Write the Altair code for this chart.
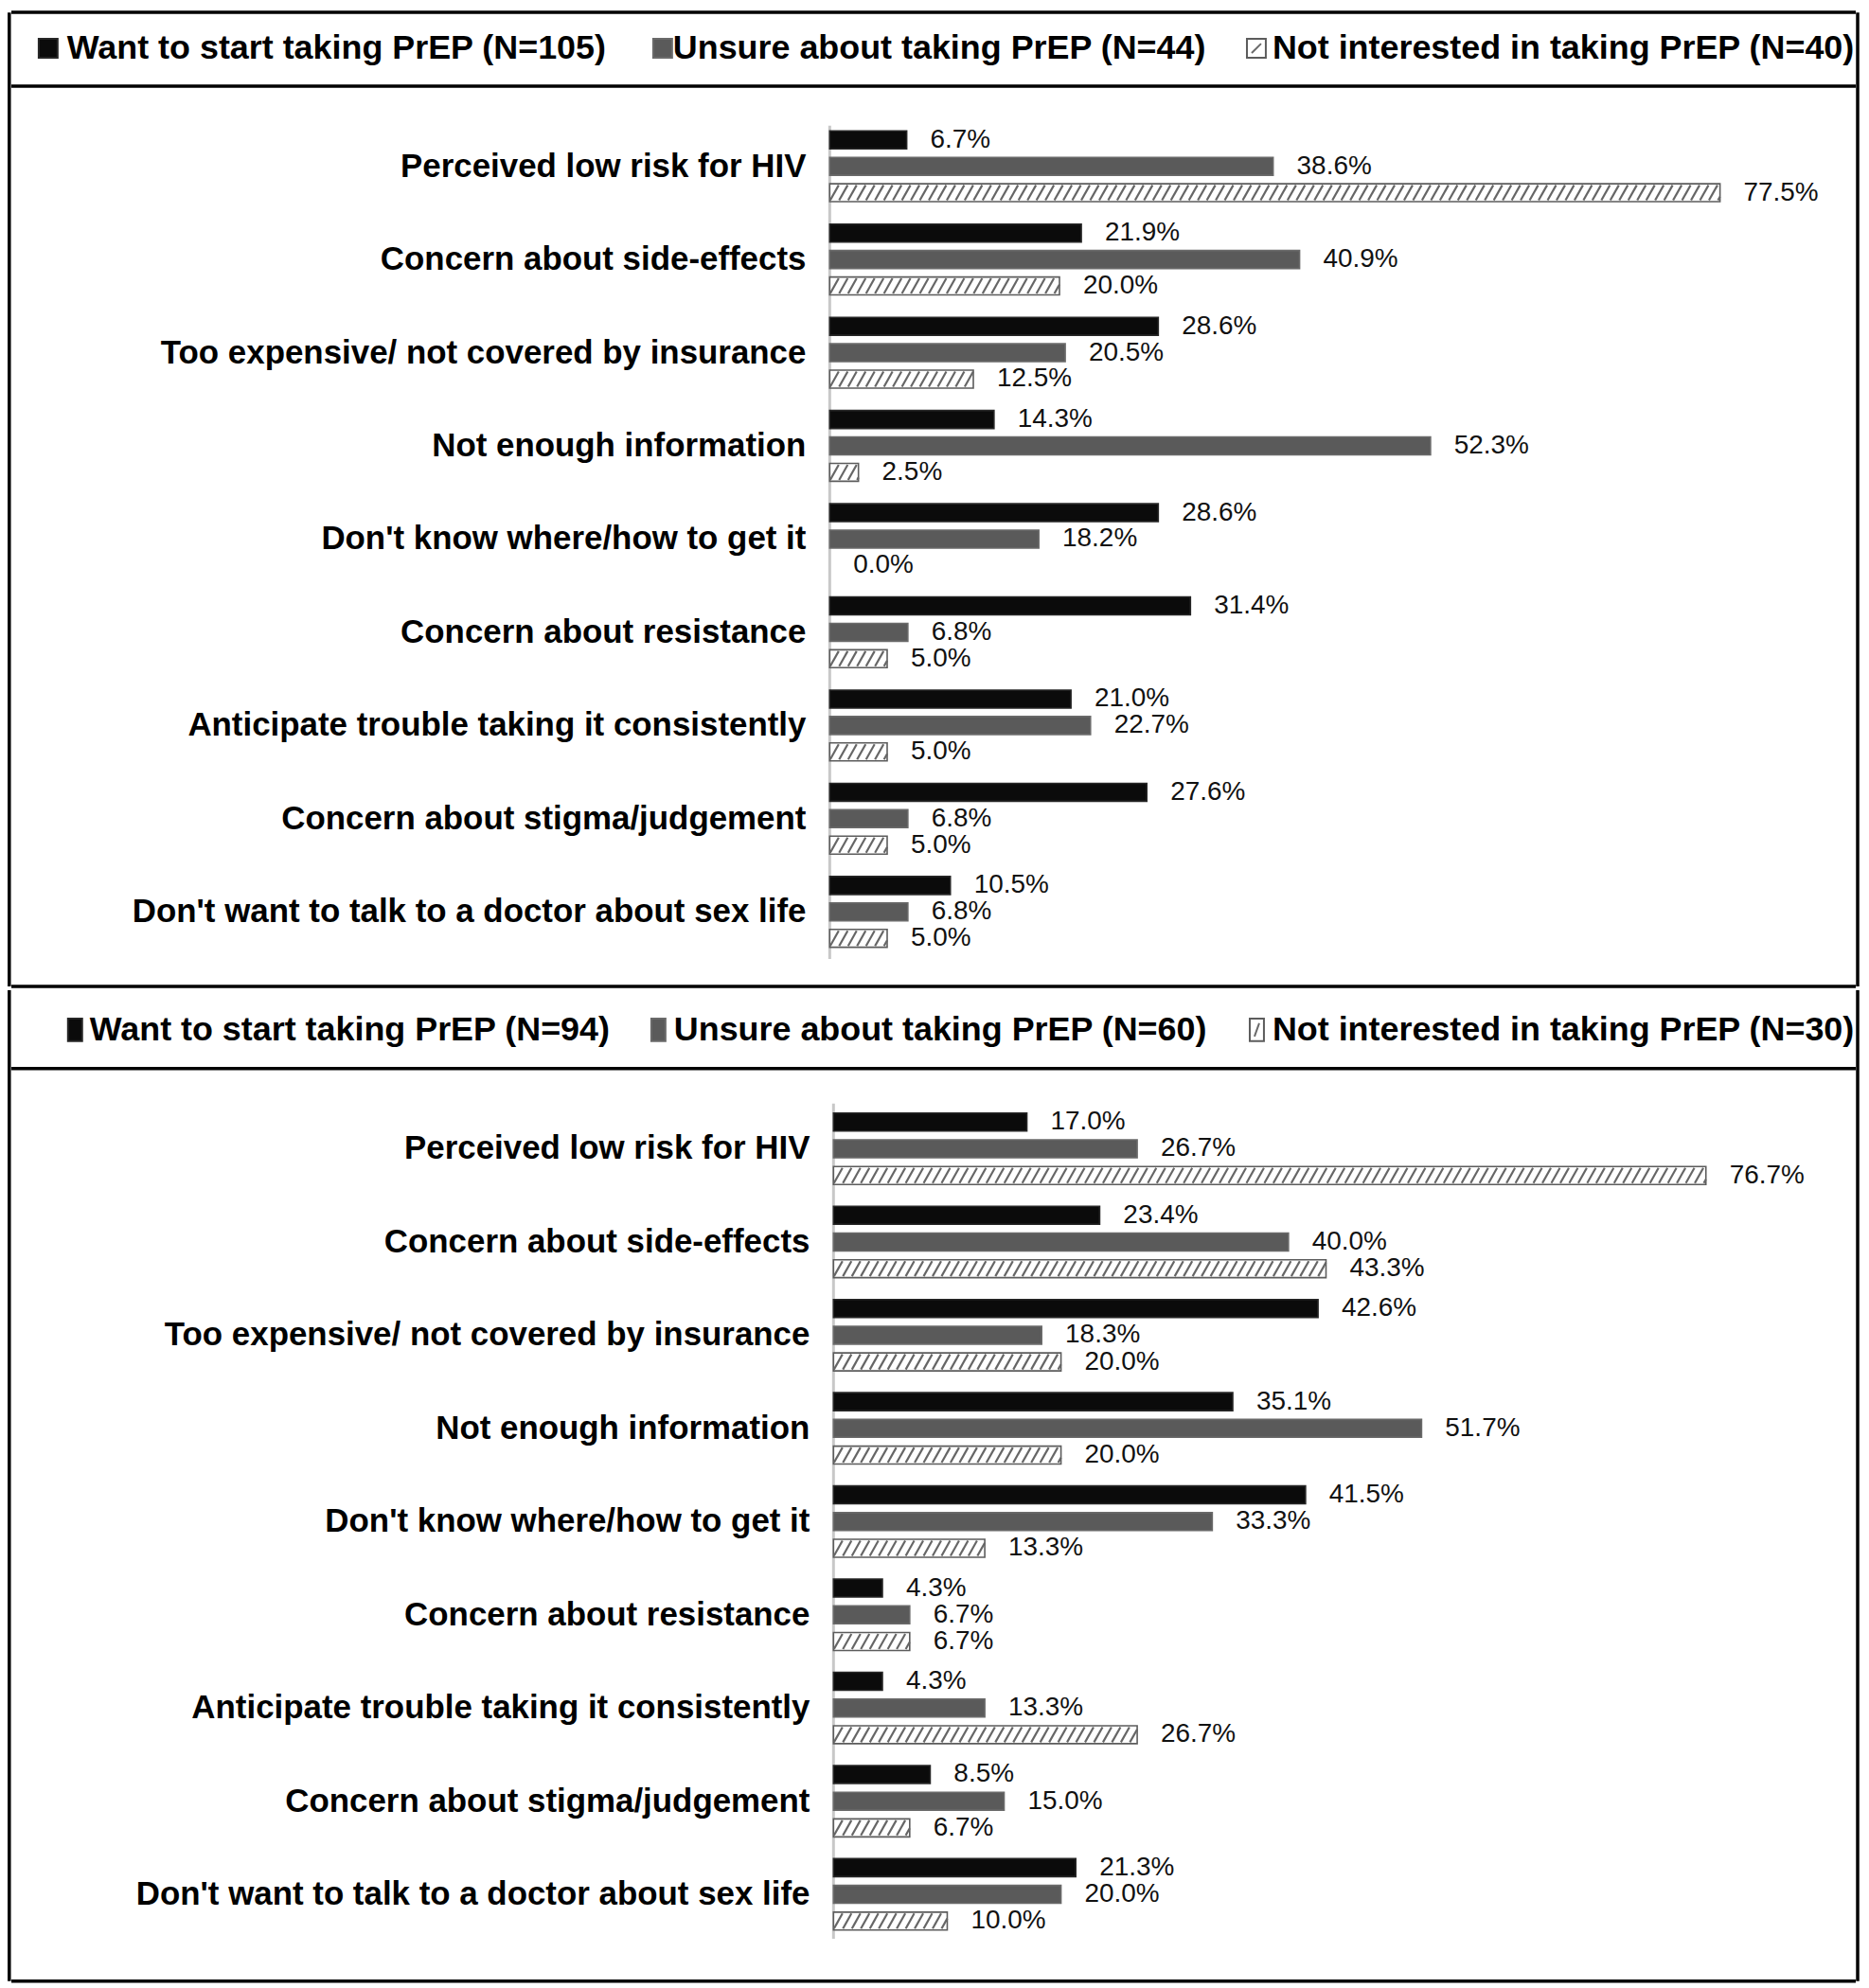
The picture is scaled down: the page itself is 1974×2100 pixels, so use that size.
import altair as alt
import pandas as pd

# ---------------- data ----------------
CATEGORIES_TOP = [
    "Perceived low risk  for HIV",
    "Concern about side-effects",
    "Too expensive/ not covered by insurance",
    "Not enough information",
    "Don't know where/how to get it",
    "Concern about resistance",
    "Anticipate trouble taking it consistently",
    "Concern about stigma/judgement",
    "Don't want to talk to a doctor about sex life",
]
CATEGORIES_BOTTOM = [
    "Perceived low risk for HIV",
    "Concern about side-effects",
    "Too expensive/ not covered by insurance",
    "Not enough information",
    "Don't know where/how to get it",
    "Concern about resistance",
    "Anticipate trouble taking it consistently",
    "Concern about stigma/judgement",
    "Don't want to talk to a doctor about sex life",
]

TOP_LEGEND = [
    "Want to start taking PrEP (N=105)",
    "Unsure about taking PrEP (N=44)",
    "Not interested in taking PrEP (N=40)",
]
TOP_WANT = [6.7, 21.9, 28.6, 14.3, 28.6, 31.4, 21.0, 27.6, 10.5]
TOP_UNSURE = [38.6, 40.9, 20.5, 52.3, 18.2, 6.8, 22.7, 6.8, 6.8]
TOP_NOT = [77.5, 20.0, 12.5, 2.5, 0.0, 5.0, 5.0, 5.0, 5.0]

BOTTOM_LEGEND = [
    "Want to  start taking PrEP (N=94)",
    "Unsure about taking PrEP (N=60)",
    "Not interested in taking PrEP (N=30)",
]
BOTTOM_WANT = [17.0, 23.4, 42.6, 35.1, 41.5, 4.3, 4.3, 8.5, 21.3]
BOTTOM_UNSURE = [26.7, 40.0, 18.3, 51.7, 33.3, 6.7, 13.3, 15.0, 20.0]
BOTTOM_NOT = [76.7, 43.3, 20.0, 20.0, 13.3, 6.7, 26.7, 6.7, 10.0]

# ---------------- style ----------------
FONT = "Liberation Sans, Arial, sans-serif"
FILLS = ["#0b0b0b", "#5a5a5a", "#ffffff"]
STROKES = ["#262626", "#6a6a6a", "#5c5c5c"]
WIDTH = 1964

LAYOUT_TOP = dict(
    height=1036, axis_x=871, ppu=12.17, first_y=165, group_step=98.75,
    bar_step=28.0, bar_half=9.5, axis_top=122, axis_bot=1005,
    leg_sq_x=[33, 684, 1313], leg_sq_w=20, leg_tx=[63, 705, 1340],
    leg_y=40, leg_sq_h=20,
    hlines=[(4, WIDTH - 6, 1.8), (4, WIDTH - 6, 80), (4, WIDTH - 6, 1034)],
)
LAYOUT_BOTTOM = dict(
    height=1054, axis_x=875, ppu=12.05, first_y=170, group_step=98.75,
    bar_step=28.3, bar_half=9.5, axis_top=122, axis_bot=1007,
    leg_sq_x=[64, 682, 1316], leg_sq_w=15, leg_tx=[87, 706, 1340],
    leg_y=44, leg_sq_h=24,
    hlines=[(4, WIDTH - 6, 85), (4, WIDTH - 6, 1052)],
)


def panel(cats, legend, want, unsure, notint, lay):
    H = lay["height"]
    ppu = lay["ppu"]
    x0 = lay["axis_x"]
    gs = lay["group_step"]
    y0 = lay["first_y"]
    xscale = alt.Scale(domain=[-x0 / ppu, (WIDTH - x0) / ppu], nice=False, zero=False)
    yscale = alt.Scale(domain=[-y0 / gs, (H - y0) / gs], nice=False, zero=False, reverse=True)
    fill_scale = alt.Scale(domain=[0, 1, 2], range=FILLS)
    stroke_scale = alt.Scale(domain=[0, 1, 2], range=STROKES)

    rows = []
    for i, c in enumerate(cats):
        for j, vals in enumerate((want, unsure, notint)):
            rows.append({"cat": c, "i": i, "j": j, "v": vals[i]})
    df = pd.DataFrame(rows)

    bstep = lay["bar_step"] / gs
    hh = lay["bar_half"] / gs
    base = alt.Chart(df).transform_calculate(
        pos=f"datum.i + (datum.j - 1) * {bstep}",
        y0=f"datum.i + (datum.j - 1) * {bstep} - {hh}",
        y1=f"datum.i + (datum.j - 1) * {bstep} + {hh}",
        zero="0",
        lab="format(datum.v, '.1f') + '%'",
    )

    bars = base.transform_filter("datum.v > 0").mark_rect(strokeWidth=1.6).encode(
        x=alt.X("v:Q", scale=xscale, axis=None),
        x2="zero:Q",
        y=alt.Y("y0:Q", scale=yscale, axis=None),
        y2="y1:Q",
        fill=alt.Fill("j:N", scale=fill_scale, legend=None),
        stroke=alt.Stroke("j:N", scale=stroke_scale, legend=None),
    )

    dx = 9.0 / ppu
    per = 9.5 / ppu
    hin = (lay["bar_half"] - 1.5) / gs
    hatch = base.transform_filter("datum.j == 2 && datum.v > 0").transform_calculate(
        h=f"sequence({-dx}, datum.v, {per})"
    ).transform_flatten(["h"]).transform_calculate(
        xs="max(datum.h, 0)",
        xe=f"min(datum.h + {dx}, datum.v)",
    ).transform_calculate(
        ys=f"datum.pos + {hin} - 2 * {hin} * (datum.xs - datum.h) / {dx}",
        ye=f"datum.pos + {hin} - 2 * {hin} * (datum.xe - datum.h) / {dx}",
    ).transform_filter("datum.xe > datum.xs").mark_rule(
        color="#666666", strokeWidth=2.2
    ).encode(
        x=alt.X("xs:Q", scale=xscale, axis=None),
        x2="xe:Q",
        y=alt.Y("ys:Q", scale=yscale, axis=None),
        y2="ye:Q",
    )

    values = base.mark_text(
        align="left", baseline="middle", dx=25, fontSize=28, font=FONT, color="#111111"
    ).encode(
        x=alt.X("v:Q", scale=xscale, axis=None),
        y=alt.Y("pos:Q", scale=yscale, axis=None),
        text="lab:N",
    )

    labels = base.transform_filter("datum.j == 1").mark_text(
        align="right", baseline="middle", dx=-25, fontSize=35, fontWeight="bold",
        font=FONT, color="#000000",
    ).encode(
        x=alt.X("zero:Q", scale=xscale, axis=None),
        y=alt.Y("pos:Q", scale=yscale, axis=None),
        text="cat:N",
    )

    one = pd.DataFrame({"k": [0]})
    axis_line = alt.Chart(one).mark_rule(color="#c8c8c8", strokeWidth=3).encode(
        x=alt.X(datum=0, scale=xscale, axis=None),
        y=alt.Y(datum=(lay["axis_top"] - y0) / gs, scale=yscale, axis=None),
        y2=alt.Y2(datum=(lay["axis_bot"] - y0) / gs),
    )

    # legend (manual, built from the legend labels)
    leg = pd.DataFrame({
        "label": legend,
        "j": [0, 1, 2],
        "sx": lay["leg_sq_x"],
        "tx": lay["leg_tx"],
    })
    sw = lay["leg_sq_w"]
    sh = lay["leg_sq_h"]
    ly = lay["leg_y"]
    leg_base = alt.Chart(leg).transform_calculate(sx2=f"datum.sx + {sw}")
    leg_sq = leg_base.mark_rect(strokeWidth=2).encode(
        x=alt.X("sx:Q", scale=None, axis=None),
        x2="sx2:Q",
        y=alt.value(ly - sh / 2),
        y2=alt.value(ly + sh / 2),
        fill=alt.Fill("j:N", scale=fill_scale, legend=None),
        stroke=alt.Stroke("j:N", scale=stroke_scale, legend=None),
    )
    leg_hatch = leg_base.transform_filter("datum.j == 2").transform_calculate(
        hx1="datum.sx + 5", hx2=f"datum.sx + {sw} - 5"
    ).mark_rule(color="#6a6a6a", strokeWidth=2).encode(
        x=alt.X("hx1:Q", scale=None, axis=None),
        x2="hx2:Q",
        y=alt.value(ly + sh / 2 - 5),
        y2=alt.value(ly - sh / 2 + 5),
    )
    leg_txt = leg_base.mark_text(
        align="left", baseline="middle", fontSize=36, fontWeight="bold", font=FONT, color="#000000"
    ).encode(
        x=alt.X("tx:Q", scale=None, axis=None),
        y=alt.value(ly),
        text="label:N",
    )

    # frame lines
    hl = pd.DataFrame(lay["hlines"], columns=["xa", "xb", "yy"])
    hlines = alt.Chart(hl).mark_rule(color="#000000", strokeWidth=3.5).encode(
        x=alt.X("xa:Q", scale=None, axis=None),
        x2="xb:Q",
        y=alt.Y("yy:Q", scale=None, axis=None),
    )
    vl = pd.DataFrame({"xx": [1.8, WIDTH - 4], "ya": [2, 2], "yb": [H - 2, H - 2]})
    vlines = alt.Chart(vl).mark_rule(color="#000000", strokeWidth=3.5).encode(
        x=alt.X("xx:Q", scale=None, axis=None),
        y=alt.Y("ya:Q", scale=None, axis=None),
        y2="yb:Q",
    )

    return alt.layer(
        axis_line, bars, hatch, values, labels, leg_sq, leg_hatch, leg_txt, hlines, vlines
    ).properties(width=WIDTH, height=H)


p1 = panel(CATEGORIES_TOP, TOP_LEGEND, TOP_WANT, TOP_UNSURE, TOP_NOT, LAYOUT_TOP)
p2 = panel(CATEGORIES_BOTTOM, BOTTOM_LEGEND, BOTTOM_WANT, BOTTOM_UNSURE, BOTTOM_NOT, LAYOUT_BOTTOM)

chart = alt.vconcat(p1, p2, spacing=0, bounds="flush").properties(
    padding=0, background="white"
).configure_view(stroke=None)

chart.save("out.html", embed_options={"renderer": "svg", "actions": False})
